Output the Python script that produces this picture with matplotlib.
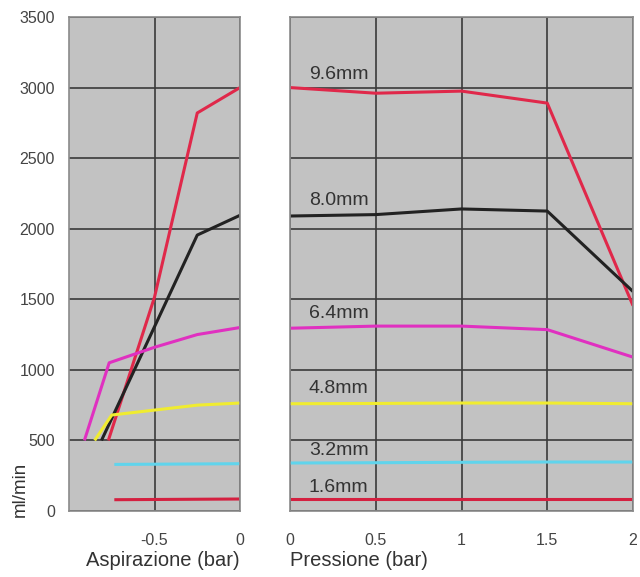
import numpy as np
import matplotlib.pyplot as plt

plt.rcParams['font.family'] = ['Liberation Sans', 'DejaVu Sans']

# diametri ugelli
labels = ['9.6mm', '8.0mm', '6.4mm', '4.8mm', '3.2mm', '1.6mm']
colors = ['#e0284a', '#222222', '#e030c0', '#f0ec30', '#60d4ec', '#d42040']

# aspirazione (bar) -> ml/min
asp_x = [
    [-0.77, -0.5, -0.25, 0],
    [-0.81, -0.25, 0],
    [-0.91, -0.765, -0.5, -0.25, 0],
    [-0.85, -0.75, -0.5, -0.25, 0],
    [-0.735, 0],
    [-0.735, 0],
]
asp_y = [
    [500, 1515, 2820, 3000],
    [500, 1955, 2095],
    [500, 1050, 1160, 1250, 1300],
    [500, 680, 715, 750, 765],
    [330, 335],
    [80, 85],
]

# pressione (bar) -> ml/min
pr_x = [0, 0.5, 1, 1.5, 2]
pr_y = [
    [3000, 2960, 2975, 2890, 1455],
    [2090, 2100, 2140, 2125, 1555],
    [1295, 1310, 1310, 1285, 1090],
    [760, 762, 765, 765, 760],
    [340, 342, 345, 347, 347],
    [82, 82, 82, 82, 82],
]
label_y = [3090, 2200, 1400, 865, 432, 170]

fig = plt.figure(figsize=(6.4, 5.77), dpi=100)
ax1 = fig.add_axes([69/640, 1-511/577, 171/640, 494/577])
ax2 = fig.add_axes([290/640, 1-511/577, 343/640, 494/577])

for ax in (ax1, ax2):
    ax.set_facecolor('#c2c2c2')
    ax.set_ylim(0, 3500)
    ax.set_yticks(np.arange(0, 3501, 500))
    ax.grid(True, color='#3a3a3a', lw=1.2)
    ax.set_axisbelow(True)
    for s in ax.spines.values():
        s.set_color('#8a8a8a')
        s.set_linewidth(1.2)
    ax.tick_params(length=0, labelsize=11.5, labelcolor='#444444', pad=10)

for x, y, c in zip(asp_x, asp_y, colors):
    ax1.plot(x, y, color=c, lw=2.2, solid_capstyle='butt')
ax1.set_xlim(-1.0, 0)
ax1.set_xticks([-0.5, 0])
ax1.set_xticklabels(['-0.5', '0'])
ax1.tick_params(axis='x', pad=16)
ax1.set_xlabel('Aspirazione (bar)', fontsize=14.5, color='#333333', labelpad=2, loc='right')

for y, c, lab, ly in zip(pr_y, colors, labels, label_y):
    ax2.plot(pr_x, y, color=c, lw=2.2, solid_capstyle='butt')
    ax2.text(0.11, ly, lab, fontsize=14, color='#333333', va='center', ha='left')
ax2.set_xlim(0, 2)
ax2.set_xticks([0, 0.5, 1, 1.5, 2])
ax2.set_xticklabels(['0', '0.5', '1', '1.5', '2'])
ax2.tick_params(axis='x', pad=16)
ax2.tick_params(axis='y', labelleft=False)
ax2.set_xlabel('Pressione (bar)', fontsize=14.5, color='#333333', labelpad=2, loc='left')

fig.text(20/640, 1-489/577, 'ml/min', rotation=90, fontsize=13.5, color='#333333',
         ha='center', va='center')

fig.savefig('out.png', dpi=100)
